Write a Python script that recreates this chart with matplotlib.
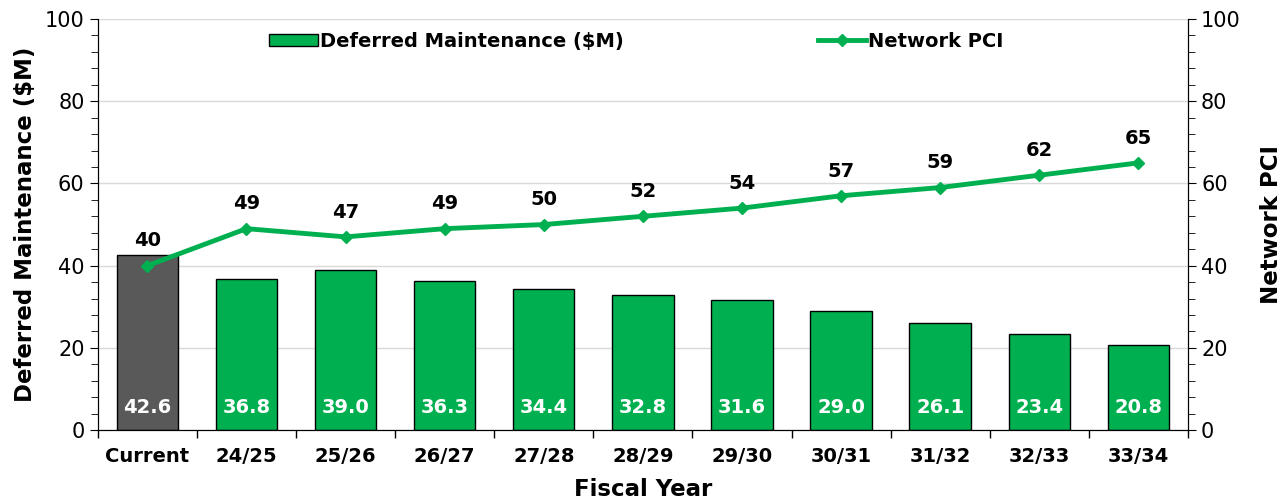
import matplotlib.pyplot as plt
import numpy as np
from matplotlib.ticker import MultipleLocator
from matplotlib.patches import Patch

# data
years = ['Current', '24/25', '25/26', '26/27', '27/28', '28/29',
         '29/30', '30/31', '31/32', '32/33', '33/34']
deferred = [42.6, 36.8, 39.0, 36.3, 34.4, 32.8, 31.6, 29.0, 26.1, 23.4, 20.8]
pci = [40, 49, 47, 49, 50, 52, 54, 57, 59, 62, 65]

green = '#00B050'
grey = '#595959'

plt.rcParams['font.family'] = 'DejaVu Sans'

fig, ax = plt.subplots(figsize=(12.87, 4.99), dpi=100)
fig.subplots_adjust(left=0.076, right=0.923, top=0.962, bottom=0.138)

x = np.arange(len(years))
colors = [grey] + [green] * (len(years) - 1)
bars = ax.bar(x, deferred, width=0.62, color=colors, edgecolor='black',
              linewidth=1, zorder=2)

for xi, v in zip(x, deferred):
    ax.text(xi, 5.6, f'{v:.1f}', ha='center', va='center', color='white',
            fontsize=14, fontweight='bold', zorder=3)

ax.set_xlim(-0.5, len(years) - 0.5)
ax.set_ylim(0, 100)
ax.yaxis.set_major_locator(MultipleLocator(20))
ax.yaxis.set_minor_locator(MultipleLocator(4))
ax.grid(axis='y', color='#d9d9d9', linewidth=1, zorder=0)
ax.set_axisbelow(True)
ax.set_xticks(x)
ax.set_xticklabels(years, fontsize=14, fontweight='bold')
ax.tick_params(axis='x', length=0, pad=12)
# boundary ticks between categories
ax.set_xticks(np.arange(-0.5, len(years)), minor=True)
ax.tick_params(axis='x', which='minor', length=6, width=1)
ax.tick_params(axis='y', which='major', length=6, labelsize=15)
ax.tick_params(axis='y', which='minor', length=5)
ax.set_ylabel('Deferred Maintenance ($M)', fontsize=16.5, fontweight='bold',
              labelpad=6)
ax.set_xlabel('Fiscal Year', fontsize=16.5, fontweight='bold', labelpad=9)
ax.spines['top'].set_visible(False)

ax2 = ax.twinx()
line, = ax2.plot(x, pci, color=green, linewidth=3.5, marker='D',
                 markersize=6, zorder=4)
for xi, v in zip(x, pci):
    ax2.text(xi, v + 6, f'{v}', ha='center', va='center', color='black',
             fontsize=14, fontweight='bold')
ax2.set_ylim(0, 100)
ax2.yaxis.set_major_locator(MultipleLocator(20))
ax2.yaxis.set_minor_locator(MultipleLocator(4))
ax2.tick_params(axis='y', which='major', length=6, labelsize=15)
ax2.tick_params(axis='y', which='minor', length=5)
ax2.set_ylabel('Network PCI', fontsize=16.5, fontweight='bold', labelpad=14)
ax2.spines['top'].set_visible(False)

bar_handle = Patch(facecolor=green, edgecolor='black', linewidth=1)
ax.legend([bar_handle, line], ['Deferred Maintenance ($M)', 'Network PCI'],
          loc='upper center', bbox_to_anchor=(0.494, 1.012), ncol=2,
          frameon=False, columnspacing=10, handlelength=2.5,
          handleheight=0.6, handletextpad=0.1,
          prop={'weight': 'bold', 'size': 14})

fig.savefig('out.png', dpi=100)
